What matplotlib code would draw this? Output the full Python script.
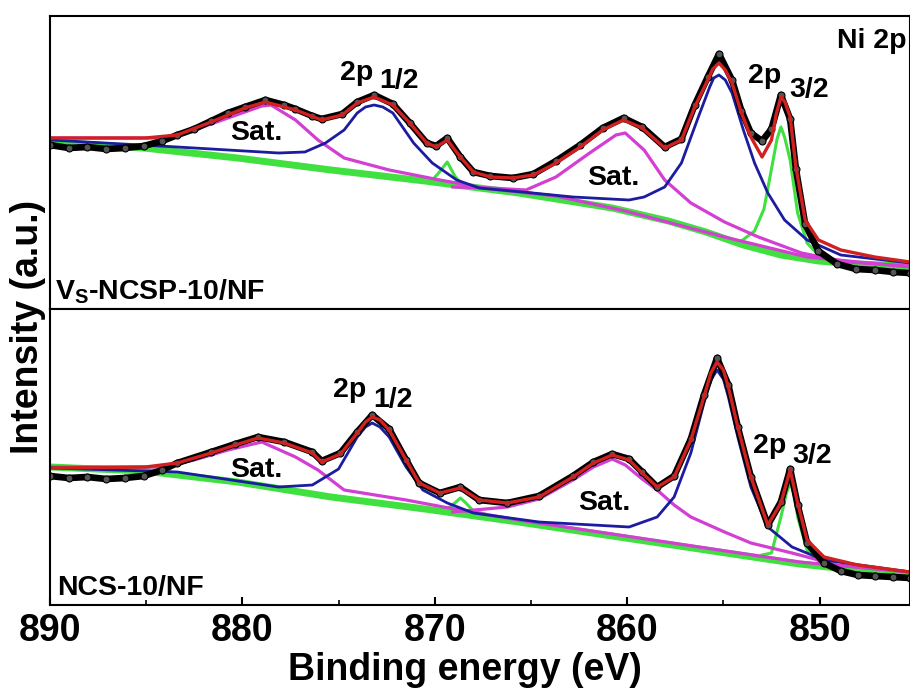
import matplotlib
matplotlib.use("Agg")
import matplotlib.pyplot as plt
from matplotlib.ticker import MultipleLocator

plt.rcParams.update({
    "font.family": "Liberation Sans",
    "font.weight": "bold",
    "mathtext.fontset": "custom",
    "mathtext.rm": "Liberation Sans:bold",
    "mathtext.default": "rm",
})

# ---- Vs-NCSP-10/NF (top panel): binding energy (eV) / intensity (a.u.)
vs_data_e = [890, 889.03, 888.05, 887.08, 886.1, 885.13, 884.16, 883.38, 882.5, 881.62, 880.75,
             879.87, 878.8, 877.82, 877.24, 876.36, 875.88, 874.81, 874.03, 873.15, 872.18,
             871.3, 870.42, 869.93, 869.35, 868.67, 867.99, 867.11, 865.94, 864.87, 863.7,
             862.44, 861.27, 860.19, 859.22, 858.05, 857.18, 856.49, 855.81, 855.23, 854.55,
             854.06, 853.57, 852.99, 852.5, 852.01, 851.53, 851.23, 850.75, 850.06, 849.09,
             848.12, 847.14, 846.17, 845.3]
vs_data = [164, 161, 162, 160, 161, 163, 168, 174, 180, 188, 196,
           202, 209, 204, 200, 193, 190, 195, 207, 214, 205,
           186, 166, 163, 171, 152, 137, 133, 131, 135, 148,
           164, 181, 191, 182, 162, 170, 204, 232, 255, 229,
           198, 176, 168, 180, 214, 190, 140, 85, 58, 45,
           40, 39, 37, 36]
vs_fit_e = [890, 888.54, 885.03, 883.38, 881.62, 879.87, 878.8, 877.24, 875.88, 874.81, 874.03,
            873.15, 872.18, 871.3, 870.42, 869.93, 869.35, 868.67, 867.99, 867.11, 865.94,
            864.87, 863.7, 862.44, 861.27, 860.19, 859.22, 858.05, 857.18, 856.49, 855.81,
            855.55, 855.23, 854.9, 854.55, 854.06, 853.57, 852.99, 852.5, 852.25, 852.01,
            851.8, 851.53, 851.23, 850.75, 850.06, 848.9, 847.14, 845.3]
vs_fit = [171, 171, 171, 174, 187, 201, 207, 199, 189, 194, 206,
          212, 204, 186, 166, 162, 169, 152, 137, 132, 131,
          134, 146, 162, 179, 189, 181, 161, 169, 202, 229,
          240, 246, 239, 226, 196, 172, 152, 169, 195, 212,
          207, 192, 142, 89, 69, 59, 52, 47]
vs_blue_e = [890, 883.38, 878.12, 876.75, 875.68, 874.71, 874.03, 873.6, 873.15, 872.7, 872.18,
             871.1, 870.13, 868.86, 867.69, 865.45, 862.82, 859.9, 859.12, 858.05, 857.18,
             856.3, 855.71, 855.5, 855.23, 854.9, 854.55, 853.96, 853.38, 852.69, 851.82,
             850.65, 848.9, 845.3]
vs_blue = [169, 162, 156, 157, 166, 179, 196, 202, 204, 202, 196,
           166, 146, 129, 121, 117, 112, 109, 112, 122, 146,
           192, 222, 231, 234, 229, 216, 179, 146, 116, 89,
           69, 54, 46]
vs_sat1_e = [890, 884.16, 882.5, 880.75, 878.99, 878.51, 877.24, 876.07, 874.71, 872.37, 869.74,
             867.11, 863.7, 860.1, 854.94, 850.65, 845.3]
vs_sat1 = [171, 171, 179, 191, 203, 204, 189, 169, 151, 139, 129,
           120, 113, 98, 72, 52, 42]
vs_sat2_e = [869.06, 867.11, 865.26, 863.7, 861.95, 860.58, 860.1, 859.12, 858.05, 856.69,
             854.94, 853.18, 850.94, 848.6, 845.3]
vs_sat2 = [122, 121, 119, 132, 156, 174, 176, 159, 129, 106,
           87, 72, 56, 47, 43]
vs_bg_e = [890, 885.13, 880.26, 875.39, 870.52, 865.65, 860.78, 857.86, 855.91, 853.96,
           852.01, 850.06, 848.12, 845.3]
vs_bg = [167, 161, 151, 139, 128, 116, 101, 88, 77, 64, 54, 48, 45, 43]
vs_g1_e = [871.01, 870.23, 869.84, 869.35, 868.96, 868.57, 867.89]
vs_g1 = [129, 127, 135, 147, 133, 124, 121]
vs_g2_e = [854.06, 853.38, 852.89, 852.5, 852.21, 852.01, 851.82, 851.53, 851.14, 850.65,
           850.06, 849.09]
vs_g2 = [68, 78, 100, 140, 170, 182, 172, 149, 96, 66, 54, 49]

# ---- NCS-10/NF (bottom panel)
ncs_data_e = [890, 889.03, 888.05, 887.08, 886.1, 885.13, 884.16, 883.38, 881.62, 880.36, 879.19,
              877.82, 876.36, 875.88, 874.9, 874.03, 873.25, 872.37, 871.49, 870.81, 869.74,
              868.67, 867.69, 866.23, 864.58, 862.82, 861.75, 860.78, 859.9, 859.22, 858.44,
              857.56, 856.69, 856.01, 855.33, 854.74, 854.25, 853.57, 852.69, 852.01, 851.53,
              851.14, 850.65, 849.77, 848.9, 848.02, 847.14, 846.17, 845.3]
ncs_data = [129, 127, 128, 126, 127, 129, 135, 142, 153, 161, 168,
            163, 153, 144, 152, 173, 190, 176, 145, 122, 112,
            118, 105, 102, 109, 129, 143, 151, 146, 133, 118,
            129, 166, 210, 247, 220, 178, 128, 80, 103, 136,
            100, 62, 42, 34, 30, 29, 28, 27]
ncs_fit_e = [890, 885.03, 883.38, 881.62, 880.36, 879.19, 877.82, 876.36, 875.88, 874.9, 874.03,
             873.6, 873.25, 872.85, 872.37, 871.49, 870.81, 869.74, 868.67, 867.69, 866.23,
             864.58, 862.82, 861.75, 860.78, 859.9, 859.22, 858.44, 857.56, 856.69, 856.01,
             855.65, 855.33, 855.0, 854.74, 854.25, 853.57, 852.69, 852.01, 851.53, 851.14,
             850.65, 849.77, 848.02, 845.3]
ncs_fit = [137, 138, 142, 152, 160, 167, 162, 152, 143, 151, 172,
           183, 188, 185, 175, 145, 122, 112, 117, 105, 102,
           108, 128, 142, 150, 145, 132, 118, 128, 165, 208,
           232, 243, 235, 218, 178, 128, 80, 102, 135, 102,
           65, 48, 40, 33]
ncs_blue_e = [890, 883.38, 878.12, 876.36, 875.0, 874.03, 873.6, 873.25, 872.85, 872.37, 871.49,
              870.62, 869.35, 867.99, 864.58, 859.9, 858.44, 857.56, 856.69, 856.01, 855.65,
              855.33, 855.0, 854.74, 854.25, 853.57, 852.69, 851.43, 849.77, 845.3]
ncs_blue = [137, 133, 118, 120, 136, 168, 178, 182, 178, 168, 138,
            115, 102, 92, 83, 78, 88, 108, 152, 202, 225,
            235, 226, 208, 168, 118, 78, 58, 45, 33]
ncs_sat1_e = [890, 884.16, 882.5, 880.75, 878.99, 877.24, 876.07, 874.71, 871.49, 869.55, 865.65,
              860.78, 855.91, 851.04, 845.3]
ncs_sat1 = [138, 138, 145, 155, 163, 148, 135, 115, 105, 98, 85,
            71, 57, 43, 33]
ncs_sat2_e = [869.06, 866.23, 864.58, 862.82, 861.75, 860.78, 860.1, 859.22, 858.44, 857.56,
              856.69, 854.94, 853.57, 851.43, 849.09, 845.3]
ncs_sat2 = [93, 98, 106, 125, 138, 146, 140, 126, 115, 100,
            88, 73, 62, 52, 40, 33]
ncs_bg_e = [890, 885.13, 880.26, 875.39, 870.52, 865.65, 860.78, 855.91, 851.04, 848.12, 845.3]
ncs_bg = [138, 134, 123, 108, 96, 83, 69, 55, 41, 35, 31]
ncs_g1_e = [870.03, 869.35, 868.96, 868.67, 868.38, 867.99, 867.4]
ncs_g1 = [95, 96, 102, 107, 102, 94, 91]
ncs_g2_e = [852.99, 852.5, 852.01, 851.72, 851.53, 851.33, 851.14, 850.65, 850.06]
ncs_g2 = [50, 52, 88, 112, 122, 112, 88, 55, 44]

RED = "#d02020"
BLUE = "#1c1ca0"
MAG = "#d23fd2"
GRN = "#3fe03f"

fig = plt.figure(figsize=(9.1, 6.95), dpi=100)
ax_top = fig.add_axes([0.0549, 0.5554, 0.9451, 0.4216])
ax_bot = fig.add_axes([0.0549, 0.1295, 0.9451, 0.4259], sharex=ax_top)

panels = [
    (ax_top, vs_data_e, vs_data, vs_fit_e, vs_fit, vs_blue_e, vs_blue, vs_sat1_e, vs_sat1,
     vs_sat2_e, vs_sat2, vs_bg_e, vs_bg, vs_g1_e, vs_g1, vs_g2_e, vs_g2, 293),
    (ax_bot, ncs_data_e, ncs_data, ncs_fit_e, ncs_fit, ncs_blue_e, ncs_blue, ncs_sat1_e, ncs_sat1,
     ncs_sat2_e, ncs_sat2, ncs_bg_e, ncs_bg, ncs_g1_e, ncs_g1, ncs_g2_e, ncs_g2, 296),
]

for (ax, de, d, fe, f, be, b, s1e, s1, s2e, s2, bge, bg, g1e, g1, g2e, g2, ytop) in panels:
    ax.plot(bge, bg, color=GRN, lw=5, solid_capstyle="butt")
    ax.plot(g1e, g1, color=GRN, lw=2.2)
    ax.plot(g2e, g2, color=GRN, lw=2.2)
    ax.plot(s1e, s1, color=MAG, lw=2.3)
    ax.plot(s2e, s2, color=MAG, lw=2.3)
    ax.plot(be, b, color=BLUE, lw=2.0)
    ax.plot(de, d, color="black", lw=4.8)
    ax.plot(de, d, "o", ms=5, mfc="#555555", mec="black", mew=0.8)
    ax.plot(fe, f, color=RED, lw=2.4)
    ax.set_ylim(0, ytop)
    ax.set_yticks([])
    for s in ax.spines.values():
        s.set_linewidth(1.5)

ax_top.set_xlim(890, 845.3)
ax_top.tick_params(axis="x", bottom=False, labelbottom=False)
ax_bot.xaxis.set_major_locator(MultipleLocator(10))
ax_bot.xaxis.set_minor_locator(MultipleLocator(5))
ax_bot.tick_params(axis="x", which="major", direction="in", length=6, width=1.5, pad=6,
                   labelsize=27)
ax_bot.tick_params(axis="x", which="minor", direction="in", length=3.5, width=1.2)

ax_bot.set_xlabel("Binding energy (eV)", fontsize=27, fontweight="bold")
ax_bot.xaxis.set_label_coords(465 / 910, 15 / 695, transform=fig.transFigure)
ax_bot.xaxis.label.set_va("baseline")
fig.text(0.0313, 0.5295, "Intensity (a.u.)", rotation=90, ha="center", va="center",
         fontsize=27, fontweight="bold")

lbl = dict(fontsize=20.5, fontweight="bold", ha="left", va="baseline")
# top panel labels
ax_top.text(849.1, 261, "Ni 2p", **lbl)
ax_top.text(874.94, 229, "2p", **lbl)
ax_top.text(872.86, 221, "1/2", **lbl)
ax_top.text(853.74, 226, "2p", **lbl)
ax_top.text(851.56, 212, "3/2", **lbl)
ax_top.text(880.65, 169, "Sat.", **lbl)
ax_top.text(862.10, 124, "Sat.", **lbl)
ax_top.text(889.74, 9, "V$_S$-NCSP-10/NF", **lbl)
# bottom panel labels
ax_bot.text(875.30, 208, "2p", **lbl)
ax_bot.text(873.22, 198, "1/2", **lbl)
ax_bot.text(853.48, 152, "2p", **lbl)
ax_bot.text(851.40, 142, "3/2", **lbl)
ax_bot.text(880.65, 128, "Sat.", **lbl)
ax_bot.text(862.57, 95, "Sat.", **lbl)
ax_bot.text(889.64, 10, "NCS-10/NF", **lbl)

fig.savefig("out.png", dpi=100)
